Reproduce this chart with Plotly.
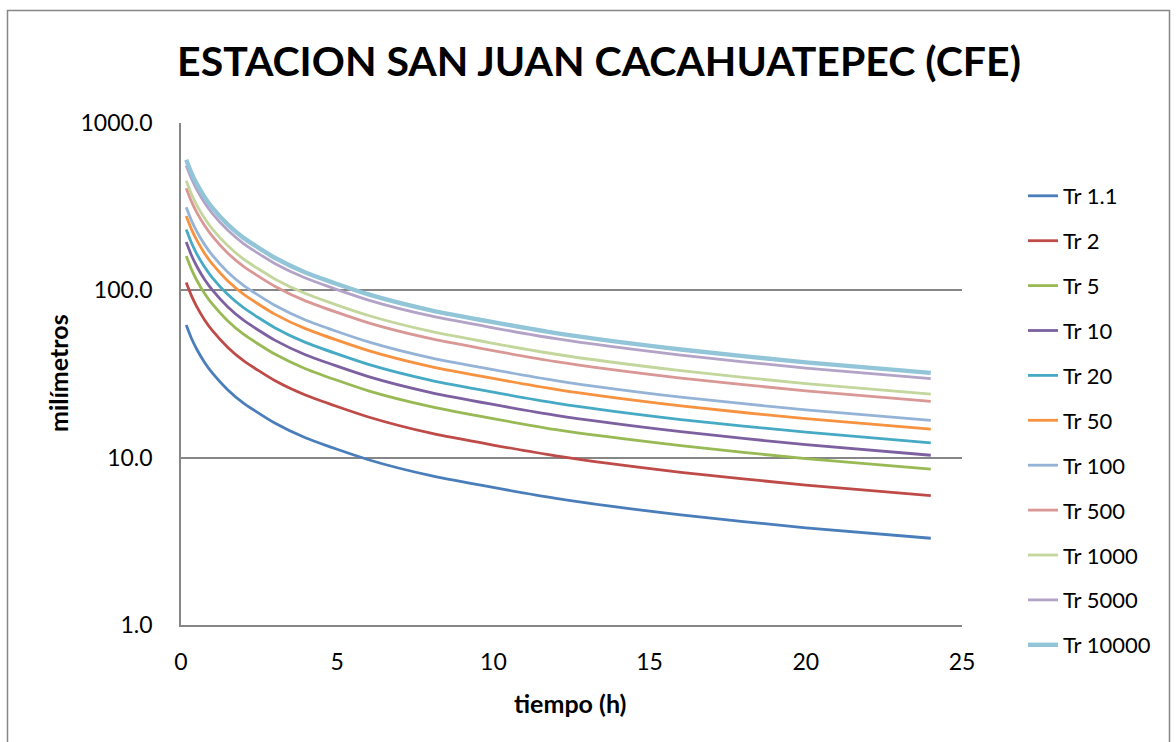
import plotly.graph_objects as go

# duration (hours)
tiempo = [0.167, 0.333, 0.5, 0.75, 1, 1.5, 2, 3, 4, 6, 8, 12, 16, 20, 24]

tr_1_1 = [62.0, 51.7, 44.6, 37.2, 32.1, 25.4, 21.2, 16.1, 13.1, 9.72, 7.81, 5.71, 4.55, 3.81, 3.30]
tr_2 = [111.4, 93.0, 80.2, 66.8, 57.6, 45.6, 38.0, 28.9, 23.6, 17.5, 14.0, 10.25, 8.18, 6.86, 5.93]
tr_5 = [160.3, 133.8, 115.3, 96.1, 82.9, 65.6, 54.7, 41.6, 33.9, 25.1, 20.2, 14.7, 11.8, 9.86, 8.53]
tr_10 = [194.3, 162.1, 139.8, 116.5, 100.5, 79.5, 66.3, 50.4, 41.1, 30.5, 24.5, 17.9, 14.3, 11.95, 10.34]
tr_20 = [230.6, 192.4, 165.9, 138.3, 119.2, 94.3, 78.7, 59.8, 48.7, 36.1, 29.0, 21.2, 16.9, 14.2, 12.27]
tr_50 = [278.1, 232.1, 200.1, 166.8, 143.8, 113.8, 94.9, 72.1, 58.8, 43.6, 35.0, 25.6, 20.4, 17.1, 14.8]
tr_100 = [313.8, 261.9, 225.8, 188.2, 162.2, 128.4, 107.1, 81.4, 66.3, 49.2, 39.5, 28.9, 23.0, 19.3, 16.7]
tr_500 = [407.7, 340.3, 293.4, 244.6, 210.8, 166.8, 139.1, 105.8, 86.2, 63.9, 51.4, 37.5, 29.9, 25.1, 21.7]
tr_1000 = [451.0, 376.3, 324.5, 270.5, 233.2, 184.5, 153.9, 117.0, 95.3, 70.7, 56.8, 41.5, 33.1, 27.7, 24.0]
tr_5000 = [558.1, 465.7, 401.5, 334.7, 288.5, 228.3, 190.4, 144.8, 118.0, 87.5, 70.3, 51.4, 41.0, 34.3, 29.7]
tr_10000 = [603.2, 503.3, 434.0, 361.8, 311.9, 246.8, 205.8, 156.5, 127.5, 94.5, 76.0, 55.5, 44.3, 37.1, 32.1]

series_names = ["Tr 1.1", "Tr 2", "Tr 5", "Tr 10", "Tr 20", "Tr 50", "Tr 100",
                "Tr 500", "Tr 1000", "Tr 5000", "Tr 10000"]
series_values = [tr_1_1, tr_2, tr_5, tr_10, tr_20, tr_50, tr_100,
                 tr_500, tr_1000, tr_5000, tr_10000]

y_tickvals = [1, 10, 100, 1000]
y_ticktext = ["1.0", "10.0", "100.0", "1000.0"]
x_tickvals = [0, 5, 10, 15, 20, 25]

colors = ["#4A7EBB", "#BE4B48", "#98B954", "#7D60A0", "#46AAC5", "#F69240",
          "#95B3D7", "#D99795", "#C3D69B", "#B3A3C7", "#92C5D8"]
widths = [2.8] * 10 + [4.4]

FONT = "Lato"

fig = go.Figure()
for i, (name, vals) in enumerate(zip(series_names, series_values)):
    fig.add_trace(go.Scatter(
        x=tiempo, y=vals, name=name, mode="lines",
        line=dict(color=colors[i], width=widths[i], shape="spline", smoothing=0.6),
        legendgroup=f"g{i}",
    ))

# plot area in pixels: left 181, right 962, top 123, bottom 625
L, R, T, B = 181, 962, 123, 625
W, H = 1176, 742
pw, ph = R - L, B - T

def px(xp):
    return (xp - L) / pw

def py(yp):
    return (B - yp) / ph

fig.update_layout(
    width=W, height=H,
    margin=dict(l=L, r=W - R, t=T, b=H - B, pad=0),
    paper_bgcolor="white", plot_bgcolor="white",
    font=dict(family=FONT, size=23, color="#000000"),
    title=dict(text="<b>ESTACION SAN JUAN CACAHUATEPEC (CFE)</b>",
               x=599 / W, xref="container", xanchor="center",
               y=1 - 62 / H, yref="container", yanchor="middle",
               font=dict(family=FONT, size=41, color="#000000")),
    showlegend=True,
    legend=dict(x=px(1023), y=py(175), xanchor="left", yanchor="top",
                font=dict(family=FONT, size=22, color="#000000"),
                tracegroupgap=13.3, bgcolor="rgba(0,0,0,0)", maxheight=1.0),
    xaxis=dict(range=[0, 25], tickvals=x_tickvals, showgrid=False,
               showline=True, linecolor="#868686", linewidth=1.5,
               ticks="", ticklabelstandoff=16, zeroline=False),
    yaxis=dict(type="log", range=[0, 3], tickvals=y_tickvals, ticktext=y_ticktext,
               showgrid=True, gridcolor="#868686", gridwidth=1.5,
               showline=True, linecolor="#868686", linewidth=1.5,
               ticks="", ticklabelstandoff=22, zeroline=False),
    annotations=[
        dict(text="<b>tiempo (h)</b>", xref="paper", yref="paper",
             x=px(570), y=py(703), xanchor="center", yanchor="middle",
             showarrow=False, font=dict(family=FONT, size=25, color="#000000")),
        dict(text="<b>milímetros</b>", xref="paper", yref="paper",
             x=px(58), y=py(373), xanchor="center", yanchor="middle",
             textangle=-90, showarrow=False,
             font=dict(family=FONT, size=25, color="#000000")),
    ],
    shapes=[dict(type="rect", xref="paper", yref="paper",
                 x0=px(7.5), x1=px(1169.5), y0=py(748), y1=py(10.5),
                 line=dict(color="#868686", width=1.5), fillcolor="rgba(0,0,0,0)",
                 layer="below")],
)

fig.write_html("out.html", config={"displayModeBar": False},
               post_script="document.body.style.margin='0';document.body.style.padding='0';")
